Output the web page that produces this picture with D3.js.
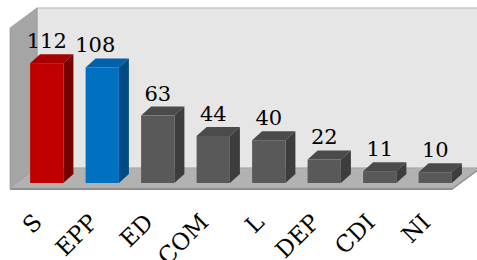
<!DOCTYPE html>
<html>
<head>
<script src="https://cdn.jsdelivr.net/npm/d3@7"></script>
<style>
  body { margin: 0; background: #fff; }
  svg text { font-family: "DejaVu Serif", "Liberation Serif", serif; }
</style>
</head>
<body>
<div id="chart"></div>
<script>
var categories = ["S", "EPP", "ED", "COM", "L", "DEP", "CDI", "NI"];
var values = [112, 108, 63, 44, 40, 22, 11, 10];
var barColors = ["#c00000", "#0070c0", "#595959", "#595959", "#595959", "#595959", "#595959", "#595959"];
var sideColors = ["#760000", "#004b82", "#3d3d3d", "#3d3d3d", "#3d3d3d", "#3d3d3d", "#3d3d3d", "#3d3d3d"];
var topColors = ["#a80000", "#0062aa", "#4b4b4b", "#4b4b4b", "#4b4b4b", "#4b4b4b", "#4b4b4b", "#4b4b4b"];

var width = 477, height = 260;
var svg = d3.select("#chart").append("svg")
    .attr("width", width)
    .attr("height", height);

// wall / floor geometry
var wallDx = 27, wallDy = -20;
var left = 10, right = 452, floorFront = 188, floorThick = 2;
var barDx = 10, barDy = -9;

var x = d3.scaleBand().domain(categories).range([19, 463]).paddingInner(0.4).paddingOuter(0.2);
var y = d3.scaleLinear().domain([0, 120]).range([183, 54.6]);

function pts(a) { return a.map(function(p) { return p.join(","); }).join(" "); }

// back wall
svg.append("polygon")
    .attr("points", pts([[left + wallDx, 8], [right + wallDx, 8], [right + wallDx, floorFront + wallDy], [left + wallDx, floorFront + wallDy]]))
    .attr("fill", "#e6e6e6").attr("stroke", "#b4b4b4").attr("stroke-width", 1.2);
// side wall
svg.append("polygon")
    .attr("points", pts([[left, 8 - wallDy], [left + wallDx, 8], [left + wallDx, floorFront + wallDy], [left, floorFront]]))
    .attr("fill", "#a5a5a5").attr("stroke", "#999").attr("stroke-width", 0.8);
// floor front edge
svg.append("polygon")
    .attr("points", pts([[left, floorFront], [right, floorFront], [right + wallDx, floorFront + wallDy], [right + wallDx, floorFront + wallDy + floorThick], [right, floorFront + floorThick], [left, floorFront + floorThick]]))
    .attr("fill", "#8e8e8e");
// floor top
svg.append("polygon")
    .attr("points", pts([[left, floorFront], [left + wallDx, floorFront + wallDy], [right + wallDx, floorFront + wallDy], [right, floorFront]]))
    .attr("fill", "#b2b2b2").attr("stroke", "#a0a0a0").attr("stroke-width", 0.6);

var bars = svg.selectAll("g.bar").data(values).enter().append("g").attr("class", "bar");

bars.append("polygon")
    .attr("points", function(d, i) {
      var x0 = x(categories[i]), x1 = x0 + x.bandwidth(), y0 = y(d);
      return pts([[x0, y0], [x0 + barDx, y0 + barDy], [x1 + barDx, y0 + barDy], [x1, y0]]);
    })
    .attr("fill", function(d, i) { return topColors[i]; });

bars.append("polygon")
    .attr("points", function(d, i) {
      var x1 = x(categories[i]) + x.bandwidth(), y0 = y(d), yb = y(0);
      return pts([[x1, y0], [x1 + barDx, y0 + barDy], [x1 + barDx, yb + barDy], [x1, yb]]);
    })
    .attr("fill", function(d, i) { return sideColors[i]; });

bars.append("rect")
    .attr("x", function(d, i) { return x(categories[i]); })
    .attr("y", function(d) { return y(d); })
    .attr("width", x.bandwidth())
    .attr("height", function(d) { return y(0) - y(d); })
    .attr("fill", function(d, i) { return barColors[i]; });

bars.append("text")
    .attr("x", function(d, i) { return x(categories[i]) + x.bandwidth() / 2 + (i == 1 ? -7 : 0); })
    .attr("y", function(d) { return y(d) - 15; })
    .attr("text-anchor", "middle")
    .attr("font-size", 21)
    .attr("fill", "#000")
    .text(function(d) { return d; });

// category axis
var axis = svg.append("g")
    .attr("transform", "translate(0,218)")
    .call(d3.axisBottom(x).tickSize(0).tickPadding(0));
axis.select(".domain").remove();
axis.selectAll("text")
    .attr("font-family", "Liberation Serif, DejaVu Serif, serif")
    .attr("font-size", 23)
    .attr("fill", "#000")
    .attr("text-anchor", "end")
    .attr("dy", "0.35em")
    .attr("transform", "translate(-9,0) rotate(-45)");
</script>
</body>
</html>
